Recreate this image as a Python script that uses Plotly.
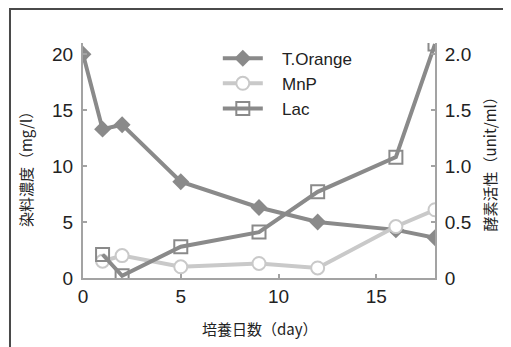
import plotly.graph_objects as go

days_dye = [0, 1, 2, 5, 9, 12, 16, 18]
t_orange = [20.0, 13.3, 13.7, 8.6, 6.3, 5.0, 4.3, 3.6]

days_enz = [1, 2, 5, 9, 12, 16, 18]
mnp = [0.15, 0.20, 0.10, 0.13, 0.09, 0.46, 0.61]
lac = [0.21, 0.02, 0.28, 0.41, 0.77, 1.08, 2.09]

x_ticks = [0, 5, 10, 15]
y_ticks = [0, 5, 10, 15, 20]
y2_ticks = [0, 0.5, 1.0, 1.5, 2.0]
y2_labels = ["0", "0.5", "1.0", "1.5", "2.0"]

DARK = "#8a8a8a"
LIGHT = "#c9c9c9"
AXIS = "#a3a3a3"
NUMFONT = "Liberation Sans, Arial, sans-serif"
JPFONT = "Noto Sans CJK JP"
PAD = "\u00a0\u00a0\u00a0"

fig = go.Figure()
fig.add_trace(go.Scatter(
    x=days_enz, y=mnp, name=PAD + "MnP", yaxis="y2", mode="lines+markers",
    line=dict(color=LIGHT, width=4),
    marker=dict(symbol="circle", size=13, color="white", line=dict(color=LIGHT, width=2)),
    legendrank=2))
fig.add_trace(go.Scatter(
    x=days_enz, y=lac, name=PAD + "Lac", yaxis="y2", mode="lines+markers",
    line=dict(color=DARK, width=4),
    marker=dict(symbol="square-open", size=13, color=DARK, line=dict(color=DARK, width=2)),
    legendrank=3))
fig.add_trace(go.Scatter(
    x=days_dye, y=t_orange, name=PAD + "T.Orange", mode="lines+markers",
    line=dict(color=DARK, width=4),
    marker=dict(symbol="diamond", size=13, color=DARK),
    legendrank=1))

# page body keeps its 8px margin, so the figure is 8px smaller with shifted margins
fig.update_layout(
    width=503, height=339,
    margin=dict(l=75, r=76, t=35, b=69),
    paper_bgcolor="white", plot_bgcolor="white",
    showlegend=True,
    legend=dict(x=0.383, y=1.01, xanchor="left", yanchor="top",
                bgcolor="rgba(0,0,0,0)", font=dict(family=NUMFONT, size=17, color="#222"),
                itemwidth=40, tracegroupgap=0),
    xaxis=dict(range=[0, 18], tickvals=x_ticks, showgrid=False, zeroline=False,
               showline=True, linecolor=AXIS, linewidth=2, ticks="inside", ticklen=4,
               tickcolor=AXIS, tickwidth=2,
               tickfont=dict(family=NUMFONT, size=19, color="#222")),
    yaxis=dict(range=[0, 21], tickvals=y_ticks, showgrid=False, zeroline=False,
               showline=True, linecolor=AXIS, linewidth=2, ticks="inside", ticklen=4,
               tickcolor=AXIS, tickwidth=2, ticklabelstandoff=4,
               tickfont=dict(family=NUMFONT, size=19, color="#222")),
    yaxis2=dict(range=[0, 2.1], tickvals=y2_ticks, ticktext=y2_labels, overlaying="y",
                side="right", showgrid=False, zeroline=False,
                showline=True, linecolor=AXIS, linewidth=2, ticks="inside", ticklen=4,
                tickcolor=AXIS, tickwidth=2, ticklabelstandoff=4,
                tickfont=dict(family=NUMFONT, size=19, color="#222")),
    font=dict(family=NUMFONT),
    hovermode=False,
)

fig.add_annotation(text="染料濃度（mg/l）", xref="paper", yref="paper", x=-0.165, y=0.48,
                   xanchor="center", yanchor="middle",
                   textangle=-90, showarrow=False, font=dict(family=JPFONT, size=15, color="#222"))
fig.add_annotation(text="酵素活性（unit/ml）", xref="paper", yref="paper", x=1.156, y=0.50,
                   xanchor="center", yanchor="middle",
                   textangle=-90, showarrow=False, font=dict(family=JPFONT, size=15, color="#222"))
fig.add_annotation(text="培養日数（day）", xref="paper", yref="paper", x=0.503, y=-0.213,
                   xanchor="center", yanchor="middle",
                   showarrow=False, font=dict(family=JPFONT, size=15, color="#222"))

# frame (left and top edges visible)
fig.add_shape(type="path", xref="paper", yref="paper",
              path="M -0.2074,-0.4 L -0.2074,1.1447 L 1.3,1.1447",
              line=dict(color="#4a4a4a", width=2), fillcolor="rgba(0,0,0,0)", layer="above")

fig.write_html("out.html", config={"displayModeBar": False})
